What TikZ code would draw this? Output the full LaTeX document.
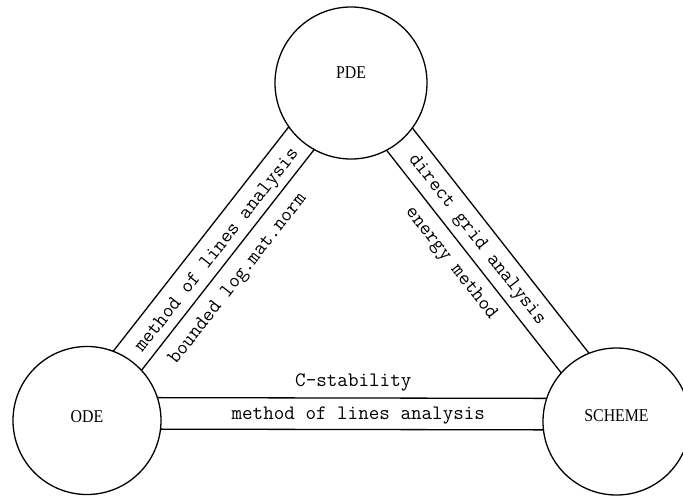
\documentclass[tikz,border=0pt]{standalone}
\usepackage{fontspec}
\setmainfont{Liberation Serif}
\usetikzlibrary{calc,backgrounds}
\begin{document}
\begin{tikzpicture}[x=1pt,y=-1pt,
  ring/.style={circle, draw, line width=1.3pt, fill=white, inner sep=0pt},
  band/.style={line width=1.3pt},
  note/.style={font=\ttfamily\fontsize{20.5}{22}\selectfont, inner sep=0pt},
  lbl/.style={font=\fontsize{18}{20}\selectfont, inner sep=0pt, xscale=0.88}]
\useasboundingbox (0,0) rectangle (683,496);
% circles
\node[ring, minimum size=152pt] (pde) at (351,83) {};
\node[ring, minimum size=148pt] (ode) at (87,420.5) {};
\node[ring, minimum size=147pt] (scheme) at (616.5,421.5) {};
% circle labels
\node[lbl] (pdet) at ($(pde)+(0,-10)$) {PDE};
\node[lbl] (odet) at ($(ode)+(0,-4)$) {ODE};
\node[lbl] (schemet) at ($(scheme)+(0,-6)$) {SCHEME};
% band texts
\node[note, rotate=51.9] (l1) at (217.5,250.8) {method of lines analysis};
\node[note, rotate=51.9] (l2) at (238.3,279.2) {bounded log.mat.norm};
\node[note, rotate=-51.9] (r1) at (476.7,240) {direct grid analysis};
\node[note, rotate=-51.9] (r2) at (450.8,263.3) {energy method};
\node[note] (b1) at (353.3,382) {C-stability};
\node[note] (b2) at (358.3,416) {method of lines analysis};
% bands (behind circles)
\begin{pgfonlayer}{background}
\fill[white] (0,0) rectangle (683,496);
\draw[band] ($(ode)!22pt!90:(pde)$) -- ($(pde)!22pt!-90:(ode)$);
\draw[band] ($(ode)!12pt!-90:(pde)$) -- ($(pde)!12pt!90:(ode)$);
\draw[band] ($(pde)!20.5pt!90:(scheme)$) -- ($(scheme)!20.5pt!-90:(pde)$);
\draw[band] ($(pde)!13.5pt!-90:(scheme)$) -- ($(scheme)!13.5pt!90:(pde)$);
\draw[band] ($(ode)!23pt!90:(scheme)$) -- ($(scheme)!23pt!-90:(ode)$);
\draw[band] ($(ode)!8.5pt!-90:(scheme)$) -- ($(scheme)!8.5pt!90:(ode)$);
\end{pgfonlayer}
\end{tikzpicture}
\end{document}
